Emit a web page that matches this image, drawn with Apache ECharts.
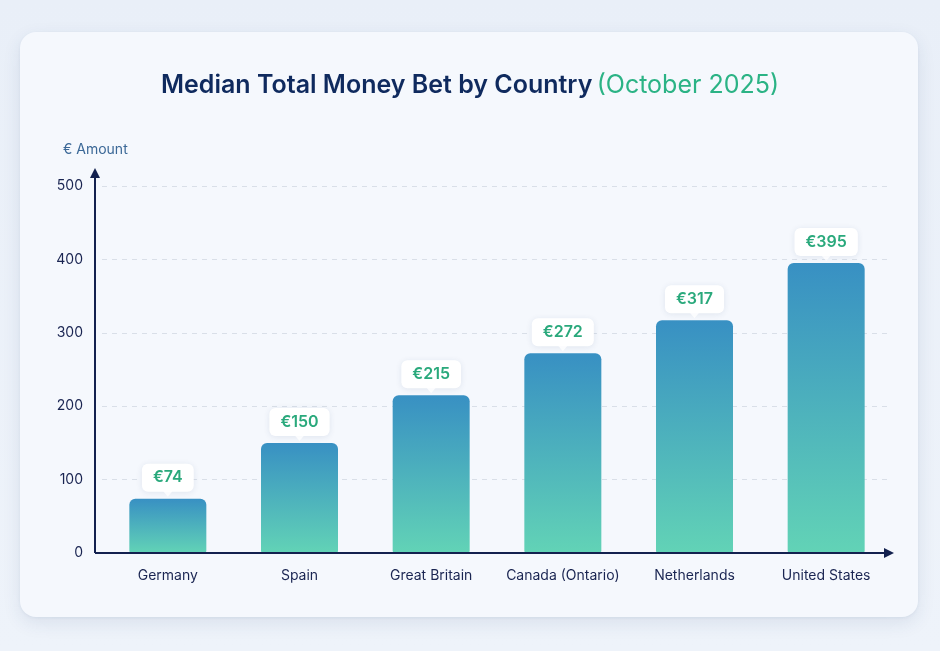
<!DOCTYPE html>
<html>
<head>
<meta charset="utf-8">
<script src="https://cdn.jsdelivr.net/npm/echarts@6/dist/echarts.min.js"></script>
<style>
  html, body { margin: 0; padding: 0; width: 940px; height: 651px; overflow: hidden;
    background: linear-gradient(180deg, #e9eff8 0%, #eef3fa 100%); font-family: Inter, "Noto Sans", sans-serif; }
  #card { position: absolute; left: 20px; top: 32px; width: 898px; height: 585px; border-radius: 16px;
    background: #f5f8fd; box-shadow: 0 6px 18px rgba(40, 70, 120, 0.10), 0 1px 3px rgba(40,70,120,0.06); }
  #chart { position: absolute; left: 0; top: 0; width: 940px; height: 651px; }
</style>
</head>
<body>
<div id="card"></div>
<div id="chart"></div>
<script>
const categories = ['Germany', 'Spain', 'Great Britain', 'Canada (Ontario)', 'Netherlands', 'United States'];
const values = [74, 150, 215, 272, 317, 395];
const titleMain = 'Median Total Money Bet by Country';
const titleSub = '(October 2025)';
const yAxisName = '€ Amount';

const chart = echarts.init(document.getElementById('chart'), null, { renderer: 'canvas' });
const axisColor = '#13214f';

const option = {
  backgroundColor: 'transparent',
  textStyle: { fontFamily: 'Inter' },
  title: [
    {
      text: '{a|' + titleMain + '} {b|' + titleSub + '}',
      left: 'center',
      top: 68,
      textStyle: {
        rich: {
          a: { fontSize: 25, fontWeight: 600, color: '#0f2a5e', fontFamily: 'Inter' },
          b: { fontSize: 25, fontWeight: 'normal', color: '#2bb385', fontFamily: 'Inter' }
        }
      }
    },
    {
      text: yAxisName,
      left: 58,
      top: 138,
      textStyle: { fontSize: 14, fontWeight: 'normal', color: '#3b6897', fontFamily: 'Inter' }
    }
  ],
  grid: { left: 102, right: 48, top: 186, bottom: 98, containLabel: false },
  xAxis: {
    type: 'category',
    data: categories,
    axisLine: { show: false },
    axisTick: { show: false },
    axisLabel: { color: '#1a2552', fontSize: 14, margin: 16, fontFamily: 'Inter', interval: 0 }
  },
  yAxis: {
    type: 'value',
    min: 0, max: 500, interval: 100,
    offset: 7,
    axisLine: { show: false },
    axisTick: { show: false },
    axisLabel: { color: '#1a2552', fontSize: 14, margin: 12, fontFamily: 'Inter' },
    splitLine: { lineStyle: { color: '#d9dfe8', type: [5, 5], width: 1 } }
  },
  series: [
    {
      type: 'bar',
      data: values,
      barWidth: 77,
      itemStyle: {
        borderRadius: [6, 6, 2, 2],
        color: new echarts.graphic.LinearGradient(0, 0, 0, 1, [
          { offset: 0, color: '#3890c3' },
          { offset: 1, color: '#62d3b6' }
        ])
      },
      label: {
        show: true,
        position: 'top',
        distance: 7,
        formatter: p => '€' + p.value,
        color: '#2aa97c',
        fontSize: 16,
        fontWeight: 600,
        fontFamily: 'Inter',
        lineHeight: 18,
        backgroundColor: '#ffffff',
        borderRadius: 6,
        padding: [5, 11, 5, 11],
        shadowColor: 'rgba(30,60,110,0.10)',
        shadowBlur: 6,
        shadowOffsetY: 1
      },
      z: 2
    },
    {
      type: 'scatter',
      data: values,
      symbol: 'triangle',
      symbolRotate: 180,
      symbolSize: [10, 6],
      symbolOffset: [0, -5],
      itemStyle: { color: '#ffffff' },
      silent: true,
      z: 5
    }
  ]
};
chart.setOption(option);

function drawAxes() {
  const rect = chart.getModel().getComponent('grid').coordinateSystem.getRect();
  const x0 = rect.x - 7;
  const yb = rect.y + rect.height;
  const xr = rect.x + rect.width;
  const yt = rect.y - 14;
  chart.setOption({
    graphic: [
      { type: 'line', shape: { x1: x0, y1: yb, x2: x0, y2: yt + 4 }, style: { stroke: axisColor, lineWidth: 2 }, z: 10 },
      { type: 'polygon', shape: { points: [[x0, yt - 4], [x0 - 5, yt + 6], [x0 + 5, yt + 6]] }, style: { fill: axisColor }, z: 10 },
      { type: 'line', shape: { x1: x0, y1: yb, x2: xr - 4, y2: yb }, style: { stroke: axisColor, lineWidth: 2 }, z: 10 },
      { type: 'polygon', shape: { points: [[xr + 2, yb], [xr - 8, yb - 5], [xr - 8, yb + 5]] }, style: { fill: axisColor }, z: 10 }
    ]
  });
}
drawAxes();
</script>
</body>
</html>
